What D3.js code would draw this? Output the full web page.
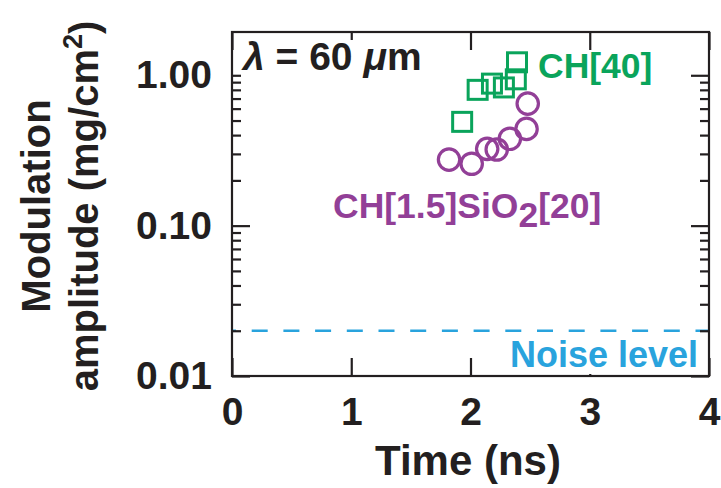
<!DOCTYPE html>
<html>
<head>
<meta charset="utf-8">
<script src="https://cdn.jsdelivr.net/npm/d3@7"></script>
<style>
  body { margin: 0; background: #fff; }
  svg { display: block; font-family: "Liberation Sans", Arial, sans-serif; }
</style>
</head>
<body>
<div id="chart"></div>
<script>
var width = 721;
var height = 488;
var margin = ({top: 32, right: 12, bottom: 112, left: 232});

// CH[40] squares
var chTime = [1.93, 2.06, 2.18, 2.28, 2.38, 2.39];
var chAmp = [0.49, 0.80, 0.88, 0.83, 0.94, 1.22];
// CH[1.5]SiO2[20] circles
var siTime = [1.82, 2.01, 2.14, 2.22, 2.33, 2.47, 2.48];
var siAmp = [0.275, 0.258, 0.324, 0.321, 0.378, 0.44, 0.648];

var noise = 0.02;
var xTicks = [0, 1, 2, 3, 4];
var yMajor = [0.01, 0.1, 1];
var yLabels = ["0.01", "0.10", "1.00"];

var black = "#231f20", green = "#0aa45b", purple = "#923f97", blue = "#29a3dd";

var x = d3.scaleLinear()
    .domain([0, 4])
    .range([margin.left, width - margin.right]);

var y = d3.scaleLog()
    .domain([0.01, 1.94])
    .range([height - margin.bottom, margin.top]);

var yMinor = [];
[0.01, 0.1, 1].forEach(function(d) {
  for (var k = 2; k <= 9; k++) if (d * k < 1.94) yMinor.push(d * k);
});

var svg = d3.select("#chart").append("svg")
    .attr("width", width)
    .attr("height", height)
    .attr("viewBox", [0, 0, width, height]);

function styleAxis(g) {
  g.select(".domain").remove();
  g.selectAll(".tick line").attr("stroke", black).attr("stroke-width", 2.2);
  g.selectAll(".tick text").attr("fill", black).attr("font-size", 39).attr("font-weight", "bold").attr("font-family", "Liberation Sans, Arial, sans-serif");
}

// noise level
svg.append("line")
    .attr("x1", x(0)).attr("x2", x(4))
    .attr("y1", y(noise)).attr("y2", y(noise))
    .attr("stroke", blue)
    .attr("stroke-width", 2.6)
    .attr("stroke-dasharray", "16,15.7")
    .attr("stroke-dashoffset", 12);

// bottom axis
svg.append("g")
    .attr("transform", `translate(0,${height - margin.bottom})`)
    .call(d3.axisBottom(x).tickValues(xTicks).tickSizeInner(-18).tickSizeOuter(0).tickPadding(21).tickFormat(d3.format("d")))
    .call(styleAxis);

// top axis
svg.append("g")
    .attr("transform", `translate(0,${margin.top})`)
    .call(d3.axisTop(x).tickValues(xTicks).tickSizeInner(-18).tickSizeOuter(0).tickFormat(""))
    .call(styleAxis);

// left axis
svg.append("g")
    .attr("transform", `translate(${margin.left},0)`)
    .call(d3.axisLeft(y).tickValues(yMajor).tickSizeInner(-18).tickSizeOuter(0).tickPadding(20)
      .tickFormat((d, i) => yLabels[i]))
    .call(styleAxis);
svg.append("g")
    .attr("transform", `translate(${margin.left},0)`)
    .call(d3.axisLeft(y).tickValues(yMinor).tickSizeInner(-9).tickSizeOuter(0).tickFormat(""))
    .call(styleAxis);

// right axis
svg.append("g")
    .attr("transform", `translate(${width - margin.right},0)`)
    .call(d3.axisRight(y).tickValues(yMajor).tickSizeInner(-18).tickSizeOuter(0).tickFormat(""))
    .call(styleAxis);
svg.append("g")
    .attr("transform", `translate(${width - margin.right},0)`)
    .call(d3.axisRight(y).tickValues(yMinor).tickSizeInner(-9).tickSizeOuter(0).tickFormat(""))
    .call(styleAxis);

// labels with white boxes
function boxLabel(tx, ty, color, size, parts, anchor) {
  var g = svg.append("g");
  var bg = g.append("rect").attr("fill", "#fff");
  var t = g.append("text")
      .attr("x", tx).attr("y", ty)
      .attr("fill", color)
      .attr("font-size", size)
      .attr("font-weight", "bold")
      .attr("text-anchor", anchor || "start");
  parts.forEach(function(p) {
    var s = t.append("tspan").text(p.t);
    if (p.style) s.attr("font-style", p.style);
    if (p.dy) s.attr("dy", p.dy);
    if (p.size) s.attr("font-size", p.size);
  });
  var b = t.node().getBBox();
  bg.attr("x", b.x).attr("y", b.y + 5).attr("width", b.width).attr("height", b.height - 6);
  return t;
}

boxLabel(243, 70, black, 39, [
  {t: "\u03bb", style: "italic"},
  {t: " = 60 "},
  {t: "\u03bc", style: "italic"},
  {t: "m"}
]);

boxLabel(538, 78, green, 35.5, [{t: "CH[40]"}]);

boxLabel(333, 218, purple, 35.5, [
  {t: "CH[1.5]SiO"},
  {t: "2", dy: 9},
  {t: "[20]", dy: -9}
]);

boxLabel(698, 367, blue, 36, [{t: "Noise level"}], "end");

// markers
var sq = 19;
svg.append("g")
  .selectAll("rect")
  .data(chTime)
  .join("rect")
    .attr("x", (d, i) => x(d) - sq / 2)
    .attr("y", (d, i) => y(chAmp[i]) - sq / 2)
    .attr("width", sq)
    .attr("height", sq)
    .attr("fill", "none")
    .attr("stroke", green)
    .attr("stroke-width", 3);

svg.append("g")
  .selectAll("circle")
  .data(siTime)
  .join("circle")
    .attr("cx", d => x(d))
    .attr("cy", (d, i) => y(siAmp[i]))
    .attr("r", 10.7)
    .attr("fill", "none")
    .attr("stroke", purple)
    .attr("stroke-width", 3.2);

// frame
svg.append("rect")
    .attr("x", margin.left)
    .attr("y", margin.top)
    .attr("width", width - margin.left - margin.right)
    .attr("height", height - margin.top - margin.bottom)
    .attr("fill", "none")
    .attr("stroke", black)
    .attr("stroke-width", 2.2);

// axis titles
svg.append("text")
    .attr("x", 468)
    .attr("y", 475)
    .attr("text-anchor", "middle")
    .attr("font-size", 42)
    .attr("font-weight", "bold")
    .attr("fill", black)
    .text("Time (ns)");

var yt = svg.append("text")
    .attr("transform", "translate(50,206) rotate(-90)")
    .attr("text-anchor", "middle")
    .attr("font-size", 40)
    .attr("font-weight", "bold")
    .attr("fill", black);
yt.append("tspan").attr("x", 0).attr("y", 0).text("Modulation");
yt.append("tspan").attr("x", 0).attr("y", 48).text("amplitude (mg/cm");
yt.append("tspan").attr("dy", -16).attr("font-size", 27).text("2");
yt.append("tspan").attr("dy", 16).text(")");
</script>
</body>
</html>
